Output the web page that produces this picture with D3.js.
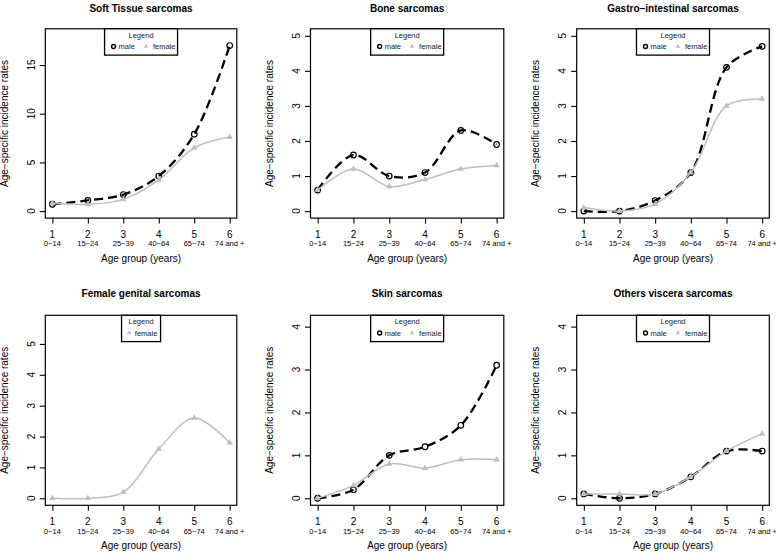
<!DOCTYPE html>
<html>
<head>
<meta charset="utf-8">
<script src="https://cdn.jsdelivr.net/npm/d3@7"></script>
<style>
  html, body { margin: 0; padding: 0; background: #fff; }
  svg { display: block; font-family: "Liberation Sans", Arial, Helvetica, sans-serif; }
</style>
</head>
<body>
<svg id="chart" width="776" height="553"></svg>
<script>
// ---------------- DATA ----------------
const ageGroups = [1, 2, 3, 4, 5, 6];
const ageRanges = ["0\u221214", "15\u221224", "25\u221239", "40\u221264", "65\u221274", "74 and +"];
const titles = ["Soft Tissue sarcomas", "Bone sarcomas", "Gastro\u2212intestinal sarcomas",
                "Female genital sarcomas", "Skin sarcomas", "Others viscera sarcomas"];

const softTissueMale   = [0.7, 1.1, 1.7, 3.6, 7.9, 17.0];
const softTissueFemale = [0.8, 0.7, 1.2, 3.2, 6.5, 7.6];
const boneMale         = [0.6, 1.6, 1.0, 1.1, 2.3, 1.9];
const boneFemale       = [0.6, 1.2, 0.7, 0.9, 1.2, 1.3];
const gastroMale       = [0.0, 0.0, 0.3, 1.1, 4.1, 4.7];
const gastroFemale     = [0.1, 0.0, 0.2, 1.1, 3.0, 3.2];
const genitalFemale    = [0.0, 0.0, 0.2, 1.6, 2.6, 1.8];
const skinMale         = [0.0, 0.2, 1.0, 1.2, 1.7, 3.1];
const skinFemale       = [0.0, 0.3, 0.8, 0.7, 0.9, 0.9];
const visceraMale      = [0.1, 0.0, 0.1, 0.5, 1.1, 1.1];
const visceraFemale    = [0.1, 0.1, 0.1, 0.5, 1.1, 1.5];

const yLimits = [[0, 18], [0, 5], [0, 5], [0, 5.7], [0, 4.1], [0, 4.1]];
const yTickValues = [[0, 5, 10, 15], [0, 1, 2, 3, 4, 5], [0, 1, 2, 3, 4, 5],
                     [0, 1, 2, 3, 4, 5], [0, 1, 2, 3, 4], [0, 1, 2, 3, 4]];
const maleSeries   = [softTissueMale, boneMale, gastroMale, null, skinMale, visceraMale];
const femaleSeries = [softTissueFemale, boneFemale, gastroFemale, genitalFemale, skinFemale, visceraFemale];

// ---------------- LAYOUT ----------------
const colLeft   = [45.3, 310.5, 576.7];
const colRight  = [236.8, 503.8, 769.3];
const rowTop    = [28.8, 315.3];
const rowBottom = [218.1, 505.3];
const rowTitle  = [8, 293];

const femaleColor = "#bebebe";
const svg = d3.select("#chart");

titles.forEach((title, i) => {
  const col = i % 3, row = Math.floor(i / 3);
  const L = colLeft[col], R = colRight[col], T = rowTop[row], B = rowBottom[row];
  const ylim = yLimits[i];
  const ypad = (ylim[1] - ylim[0]) * 0.04;
  const x = d3.scaleLinear().domain([1 - 0.2, 6 + 0.2]).range([L, R]);
  const y = d3.scaleLinear().domain([ylim[0] - ypad, ylim[1] + ypad]).range([B, T]);
  const g = svg.append("g");

  // Title
  g.append("text").attr("x", (L + R) / 2).attr("y", rowTitle[row])
    .attr("text-anchor", "middle").attr("dominant-baseline", "central")
    .attr("font-weight", "bold").attr("font-size", 10).attr("fill", "#000").text(title);

  // X axis
  const xAxis = d3.axisBottom(x).tickValues(ageGroups).tickSize(5.5).tickFormat("");
  const xg = g.append("g").attr("transform", `translate(0,${B})`).call(xAxis);
  xg.select(".domain").remove();
  xg.selectAll(".tick line").attr("stroke", "#000").attr("stroke-width", 1.1);
  ageGroups.forEach((a, k) => {
    g.append("text").attr("x", x(a)).attr("y", B + 16.5)
      .attr("text-anchor", "middle").attr("dominant-baseline", "central")
      .attr("font-size", 10).attr("fill", "#000").text(a);
    g.append("text").attr("x", x(a)).attr("y", B + 25.8)
      .attr("text-anchor", "middle").attr("dominant-baseline", "central")
      .attr("font-size", 7.5).attr("fill", "#000").text(ageRanges[k]);
  });
  g.append("text").attr("x", (L + R) / 2).attr("y", B + 40.5)
    .attr("text-anchor", "middle").attr("dominant-baseline", "central")
    .attr("font-size", 10).attr("fill", "#000").text("Age group (years)");

  // Y axis
  const yAxis = d3.axisLeft(y).tickValues(yTickValues[i]).tickSize(5.5).tickFormat("");
  const yg = g.append("g").attr("transform", `translate(${L},0)`).call(yAxis);
  yg.select(".domain").remove();
  yg.selectAll(".tick line").attr("stroke", "#000").attr("stroke-width", 1.1);
  yTickValues[i].forEach(v => {
    g.append("text").attr("transform", `translate(${L - 14},${y(v)}) rotate(-90)`)
      .attr("text-anchor", "middle").attr("dominant-baseline", "central")
      .attr("font-size", 10).attr("fill", "#000").text(v);
  });
  g.append("text").attr("transform", `translate(${L - 41},${(T + B) / 2}) rotate(-90)`)
    .attr("text-anchor", "middle").attr("dominant-baseline", "central")
    .attr("font-size", 10).attr("fill", "#000").text("Age\u2212specific incidence rates");

  // Plot box
  g.append("rect").attr("x", L).attr("y", T).attr("width", R - L).attr("height", B - T)
    .attr("fill", "none").attr("stroke", "#000").attr("stroke-width", 1.2);

  const line = d3.line().x((d, k) => x(ageGroups[k])).y(d => y(d)).curve(d3.curveCatmullRom.alpha(0.5));
  const male = maleSeries[i], female = femaleSeries[i];

  if (male) {
    g.append("path").attr("d", line(male)).attr("fill", "none").attr("stroke", "#000")
      .attr("stroke-width", 2.3).attr("stroke-dasharray", "9,5");
    g.selectAll(null).data(male).enter().append("circle")
      .attr("cx", (d, k) => x(ageGroups[k])).attr("cy", d => y(d)).attr("r", 2.8)
      .attr("fill", "none").attr("stroke", "#000").attr("stroke-width", 1.2);
  }
  if (female) {
    g.append("path").attr("d", line(female)).attr("fill", "none").attr("stroke", femaleColor)
      .attr("stroke-width", 1.5);
    g.selectAll(null).data(female).enter().append("path")
      .attr("d", d3.symbol(d3.symbolTriangle, 17))
      .attr("transform", (d, k) => `translate(${x(ageGroups[k])},${y(d)})`)
      .attr("fill", femaleColor);
  }

  // Legend
  const legW = male ? 73 : 39, legH = 26.3;
  const lx = (L + R) / 2 - legW / 2, ly = T;
  const lg = g.append("g");
  lg.append("rect").attr("x", lx).attr("y", ly).attr("width", legW).attr("height", legH)
    .attr("fill", "#fff").attr("stroke", "#000").attr("stroke-width", 1.3);
  lg.append("text").attr("x", lx + legW / 2).attr("y", ly + 6.5)
    .attr("text-anchor", "middle").attr("dominant-baseline", "central")
    .attr("font-size", 7.5).attr("fill", "#222").text("Legend");
  const ey = ly + 17.7;
  if (male) {
    lg.append("circle").attr("cx", lx + 9).attr("cy", ey).attr("r", 2)
      .attr("fill", "none").attr("stroke", "#000").attr("stroke-width", 1.4);
    lg.append("text").attr("x", lx + 14).attr("y", ey).attr("dominant-baseline", "central")
      .attr("font-size", 7.5).attr("fill", "#222").text("male");
    lg.append("path").attr("d", d3.symbol(d3.symbolTriangle, 9))
      .attr("transform", `translate(${lx + 41.4},${ey})`).attr("fill", femaleColor);
    lg.append("text").attr("x", lx + 48.4).attr("y", ey).attr("dominant-baseline", "central")
      .attr("font-size", 7.5).attr("fill", "#222").text("female");
  } else {
    lg.append("path").attr("d", d3.symbol(d3.symbolTriangle, 9))
      .attr("transform", `translate(${lx + 7.6},${ey})`).attr("fill", femaleColor);
    lg.append("text").attr("x", lx + 13.3).attr("y", ey).attr("dominant-baseline", "central")
      .attr("font-size", 7.5).attr("fill", "#222").text("female");
  }
});
</script>
</body>
</html>
